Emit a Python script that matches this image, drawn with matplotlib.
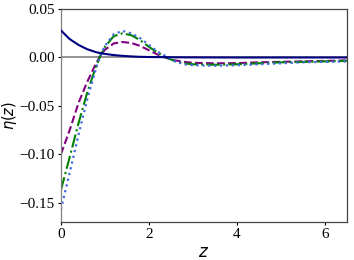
import matplotlib
matplotlib.use("Agg")
import matplotlib.pyplot as plt

z = [0.0, 0.2, 0.4, 0.6, 0.8, 0.9, 1.0, 1.2, 1.4, 1.6, 1.8, 2.0, 2.2, 2.4, 2.6, 2.8,
     3.0, 3.5, 4.0, 4.5, 5.0, 5.5, 6.0, 6.5]

eta_navy = [0.028, 0.019, 0.013, 0.0085, 0.0055, 0.0045, 0.0037, 0.0025, 0.0017, 0.0011,
            0.0007, 0.0005, 0.0004, 0.0003, 0.0002, 0.00015, 0.0001, 0.00005, 0.0, 0.0,
            0.0, 0.0, 0.0, 0.0]
eta_purple = [-0.100, -0.075, -0.047, -0.025, -0.006, 0.002, 0.008, 0.0145, 0.016, 0.015,
              0.012, 0.0075, 0.003, -0.0005, -0.003, -0.0045, -0.0055, -0.006, -0.0058,
              -0.005, -0.0045, -0.004, -0.0035, -0.003]
eta_green = [-0.137, -0.103, -0.068, -0.036, -0.009, 0.002, 0.011, 0.022, 0.025, 0.023,
             0.018, 0.011, 0.005, 0.0, -0.004, -0.006, -0.007, -0.0075, -0.007, -0.006,
             -0.005, -0.0045, -0.004, -0.0035]
eta_blue = [-0.157, -0.119, -0.080, -0.043, -0.011, 0.002, 0.012, 0.024, 0.0275, 0.025,
            0.020, 0.013, 0.006, 0.001, -0.004, -0.007, -0.008, -0.0085, -0.008, -0.007,
            -0.006, -0.005, -0.0045, -0.004]

xticks = [0, 2, 4, 6]
yticks = [-0.15, -0.10, -0.05, 0.00, 0.05]

fig = plt.figure(figsize=(3.54, 2.6), dpi=100)
ax = fig.add_axes([0.172, 0.146, 0.808, 0.819])

ax.axhline(0, color="gray", lw=1.2, zorder=1)
ax.axvline(0, color="gray", lw=1.2, zorder=1)
ax.plot(z, eta_purple, color="purple", ls="--", lw=1.5, zorder=2)
ax.plot(z, eta_green, color="green", ls="-.", lw=1.5, zorder=2)
ax.plot(z, eta_blue, color="royalblue", ls=":", lw=1.6, zorder=2)
ax.plot(z, eta_navy, color="navy", ls="-", lw=1.5, zorder=3)

ax.set_xlim(0, 6.5)
ax.set_ylim(-0.17, 0.05)
ax.set_xticks(xticks)
ax.set_yticks(yticks)
ax.set_xticklabels([str(t) for t in xticks], family="Liberation Serif", fontsize=11)
ax.set_yticklabels(["\u2212%.2f" % abs(t) if t < 0 else "%.2f" % t for t in yticks],
                   family="Liberation Serif", fontsize=11)
ax.tick_params(direction="out", length=2.5, width=0.8, pad=2)
for s in ax.spines.values():
    s.set_color("#444444")
    s.set_linewidth(0.9)
ax.spines["left"].set_color("gray")

ax.set_xlabel(r"$z$", fontsize=12, labelpad=1)
ax.set_ylabel(r"$\eta(z)$", fontsize=10.5)
ax.yaxis.set_label_coords(-0.147, 0.5)

fig.savefig("out.png", dpi=100)
